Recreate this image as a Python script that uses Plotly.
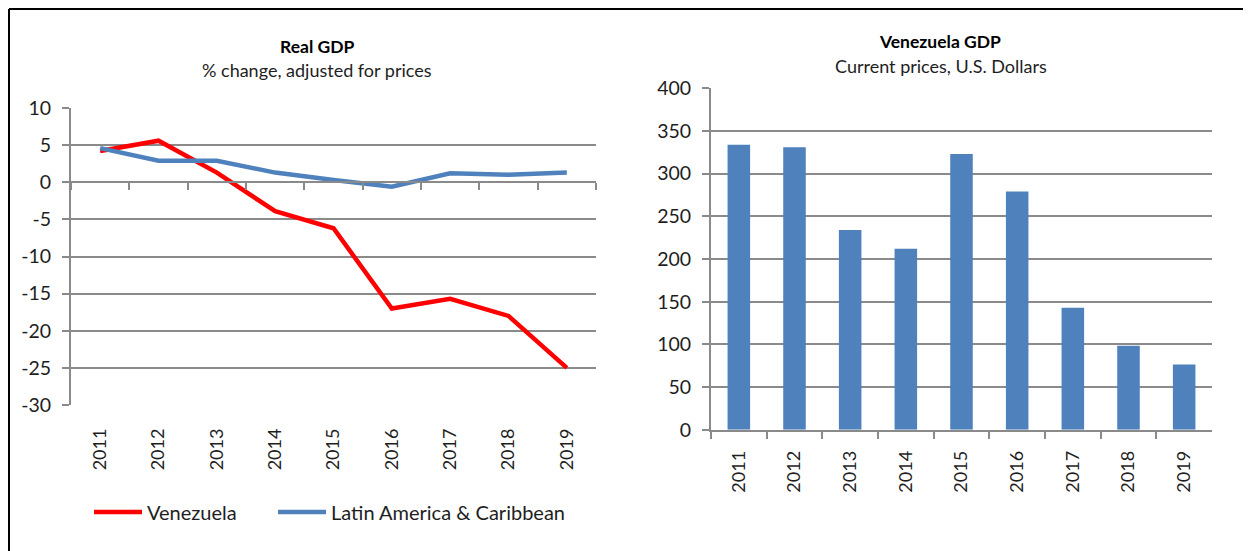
import plotly.graph_objects as go

# ---------------- data ----------------
years = ["2011", "2012", "2013", "2014", "2015", "2016", "2017", "2018", "2019"]
venezuela_growth = [4.2, 5.6, 1.3, -3.9, -6.2, -17.0, -15.7, -18.0, -25.0]
latam_growth = [4.6, 2.9, 2.9, 1.3, 0.3, -0.6, 1.2, 1.0, 1.3]
venezuela_gdp = [334, 331, 234, 212, 323, 279, 143, 98.5, 76.5]
left_ticks = [-30, -25, -20, -15, -10, -5, 0, 5, 10]
left_tick_labels = ["-30", "-25", "-20", "-15", "-10", "-5", "0", "5", "10"]
right_ticks = [0, 50, 100, 150, 200, 250, 300, 350, 400]

# ---------------- layout helpers ----------------
# the page body has an 8px margin, so the figure is drawn 8px in from the window edge
OFF = 8
W, H = 1251 - OFF, 551 - OFF
def fx(p):
    return (p - OFF) / W
def fy(p):
    return (H - (p - OFF)) / H

FONT = "Lato, 'Open Sans', sans-serif"
GRID = "#8a8a8a"
TXT = "#1e1e1e"
RED = "#ff0000"
BLUE = "#4f81bd"
CAT_RANGE = [-0.5, len(years) - 0.5]

fig = go.Figure()

fig.add_trace(go.Scatter(x=years, y=venezuela_growth, mode="lines", name="Venezuela",
                         line=dict(color=RED, width=4.5), xaxis="x", yaxis="y", legend="legend"))
fig.add_trace(go.Scatter(x=years, y=latam_growth, mode="lines", name="Latin America & Caribbean",
                         line=dict(color=BLUE, width=4.5), xaxis="x", yaxis="y", legend="legend2"))
# invisible helper trace to draw the zero-line axis with tick marks
fig.add_trace(go.Scatter(x=years, y=latam_growth, mode="lines", showlegend=False,
                         hoverinfo="skip", opacity=0, xaxis="x3", yaxis="y"))

fig.add_trace(go.Bar(x=years, y=venezuela_gdp, marker=dict(color=BLUE, line=dict(width=0)),
                     showlegend=False, xaxis="x2", yaxis="y2"))

ytick_font = dict(family=FONT, size=19.5, color=TXT)
xtick_font = dict(family=FONT, size=18, color=TXT)
leg_font = dict(family=FONT, size=20, color=TXT)

fig.update_layout(
    template="none",
    width=W, height=H,
    margin=dict(l=0, r=0, t=0, b=0, autoexpand=False),
    paper_bgcolor="white", plot_bgcolor="white",
    font=dict(family=FONT, color=TXT),
    bargap=0.595,
    xaxis=dict(domain=[fx(71), fx(596)], type="category", categoryorder="array",
               categoryarray=years, range=CAT_RANGE, anchor="y", showline=False, ticks="",
               showgrid=False, tickangle=-90, tickfont=xtick_font, automargin=False,
               ticklabelstandoff=19, zeroline=False),
    xaxis3=dict(type="category", categoryorder="array", categoryarray=years, range=CAT_RANGE,
                overlaying="x", anchor="free", position=fy(182), automargin=False,
                showline=True, linecolor=GRID, linewidth=2,
                ticks="outside", ticklen=7, tickwidth=2, tickcolor=GRID,
                tickson="boundaries", showticklabels=False, showgrid=False, zeroline=False),
    yaxis=dict(domain=[fy(405), fy(108)], range=[-30, 10], tickvals=left_ticks,
               ticktext=left_tick_labels, automargin=False,
               showline=True, linecolor=GRID, linewidth=2,
               ticks="outside", ticklen=7, tickwidth=2, tickcolor=GRID,
               showgrid=True, gridcolor=GRID, gridwidth=2, zeroline=False,
               tickfont=ytick_font, ticklabelstandoff=7),
    xaxis2=dict(domain=[fx(711), fx(1212)], type="category", categoryorder="array",
                categoryarray=years, range=CAT_RANGE, anchor="y2", automargin=False,
                showline=True, linecolor=GRID, linewidth=2,
                ticks="outside", ticklen=7, tickwidth=2, tickcolor=GRID,
                tickson="boundaries", showgrid=False, tickangle=-90, zeroline=False,
                tickfont=xtick_font, ticklabelstandoff=12),
    yaxis2=dict(domain=[fy(429.7), fy(88.3)], range=[0, 400], tickvals=right_ticks,
                anchor="x2", automargin=False, showline=True, linecolor=GRID, linewidth=2,
                ticks="outside", ticklen=7, tickwidth=2, tickcolor=GRID,
                showgrid=True, gridcolor=GRID, gridwidth=2, zeroline=False,
                tickfont=ytick_font, ticklabelstandoff=7),
    legend=dict(orientation="h", x=fx(89), y=fy(512), xanchor="left", yanchor="middle",
                font=leg_font, itemwidth=48,
                bgcolor="rgba(0,0,0,0)", borderwidth=0),
    legend2=dict(orientation="h", x=fx(273), y=fy(512), xanchor="left", yanchor="middle",
                 font=leg_font, itemwidth=48,
                 bgcolor="rgba(0,0,0,0)", borderwidth=0),
    annotations=[
        dict(text="<b>Real GDP</b>", x=fx(317), y=fy(46), xref="paper", yref="paper",
             xanchor="center", yanchor="middle",
             showarrow=False, font=dict(family=FONT, size=17.5, color="#000")),
        dict(text="% change, adjusted for prices", x=fx(317), y=fy(70), xref="paper", yref="paper",
             xanchor="center", yanchor="middle",
             showarrow=False, font=dict(family=FONT, size=18, color=TXT)),
        dict(text="<b>Venezuela GDP</b>", x=fx(940), y=fy(42), xref="paper", yref="paper",
             xanchor="center", yanchor="middle",
             showarrow=False, font=dict(family=FONT, size=17.5, color="#000")),
        dict(text="Current prices, U.S. Dollars", x=fx(941), y=fy(66), xref="paper", yref="paper",
             xanchor="center", yanchor="middle",
             showarrow=False, font=dict(family=FONT, size=18, color=TXT)),
    ],
    shapes=[
        dict(type="line", xref="paper", yref="paper", x0=fx(9), x1=1.0, y0=fy(9), y1=fy(9),
             line=dict(color="black", width=2)),
        dict(type="line", xref="paper", yref="paper", x0=fx(9), x1=fx(9), y0=0, y1=fy(9),
             line=dict(color="black", width=2)),
    ],
)

fig.write_html("out.html")
